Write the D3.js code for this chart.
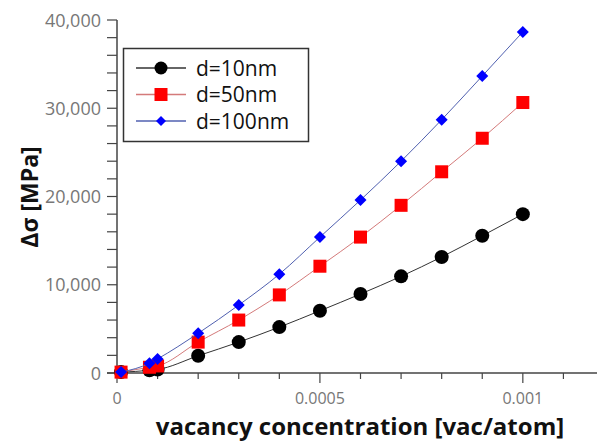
<!DOCTYPE html>
<html>
<head>
<meta charset="utf-8">
<script src="https://cdn.jsdelivr.net/npm/d3@7"></script>
<style>
  body { margin: 0; background: #fff; }
  svg { display: block; font-family: "Open Sans", sans-serif; }
</style>
</head>
<body>
<div id="chart"></div>
<script>
// data
var conc = [0.00001, 0.00008, 0.0001, 0.0002, 0.0003, 0.0004, 0.0005, 0.0006, 0.0007, 0.0008, 0.0009, 0.001]
var d10  = [100, 300, 400, 1950, 3500, 5200, 7050, 8950, 10950, 13150, 15550, 18000]
var d50  = [100, 650, 800, 3500, 6000, 8850, 12100, 15400, 19000, 22800, 26600, 30650]
var d100 = [100, 1100, 1600, 4500, 7700, 11200, 15400, 19600, 24000, 28700, 33650, 38650]
var seriesNames = ["d=10nm", "d=50nm", "d=100nm"]
var xTicks = [0, 0.0005, 0.001]
var yTicks = [0, 10000, 20000, 30000, 40000]

var width = 597,
    height = 441

var svg = d3.select("#chart")
  .append("svg")
    .attr("width", width)
    .attr("height", height)

var x = d3.scaleLinear().domain([0, 0.0012]).range([117, 604])
var y = d3.scaleLinear().domain([0, 40000]).range([373, 20])

var series = [
  {name: seriesNames[0], values: d10,  line: "#333",    fill: "#000",    shape: "circle"},
  {name: seriesNames[1], values: d50,  line: "#d47a7a", fill: "#f00",    shape: "square"},
  {name: seriesNames[2], values: d100, line: "#5060b0", fill: "#0000ff", shape: "diamond"}
]

// minor ticks
var axisColor = "#444"
var yMinor = d3.range(0, 40001, 2000)
svg.selectAll(".ymin").data(yMinor).enter().append("line")
  .attr("x1", 107).attr("x2", 117)
  .attr("y1", function(d) { return y(d) }).attr("y2", function(d) { return y(d) })
  .attr("stroke", axisColor).attr("stroke-width", 1.2)

var xMinor = d3.range(0, 12).map(function(i) { return i * 0.0001 })
svg.selectAll(".xmin").data(xMinor).enter().append("line")
  .attr("x1", function(d) { return x(d) }).attr("x2", function(d) { return x(d) })
  .attr("y1", 373).attr("y2", function(d, i) { return i % 5 == 0 ? 383 : 379 })
  .attr("stroke", axisColor).attr("stroke-width", 1.2)

// axis lines
svg.append("line").attr("x1", 117).attr("x2", 117).attr("y1", 20).attr("y2", 374)
  .attr("stroke", axisColor).attr("stroke-width", 1.5)
svg.append("line").attr("x1", 107).attr("x2", 597).attr("y1", 373).attr("y2", 373)
  .attr("stroke", axisColor).attr("stroke-width", 1.5)

// tick labels
svg.selectAll(".ylab").data(yTicks).enter().append("text")
  .attr("x", 101).attr("y", function(d) { return y(d) + 6.5 })
  .attr("text-anchor", "end")
  .attr("font-size", 18).attr("fill", "#777")
  .text(function(d) { return d3.format(",")(d) })

svg.selectAll(".xlab").data(xTicks).enter().append("text")
  .attr("x", function(d) { return x(d) }).attr("y", 404)
  .attr("text-anchor", "middle")
  .attr("font-size", 16).attr("fill", "#777")
  .text(function(d) { return d == 0 ? "0" : String(d) })

// axis titles
svg.append("text")
  .attr("x", 360).attr("y", 435)
  .attr("text-anchor", "middle")
  .attr("font-size", 24).attr("font-weight", "bold").attr("fill", "#111")
  .text("vacancy concentration [vac/atom]")

svg.append("text")
  .attr("transform", "translate(38,197) rotate(-90)")
  .attr("text-anchor", "middle")
  .attr("font-size", 23).attr("font-weight", "bold").attr("fill", "#111")
  .text("Δσ [MPa]")

// lines
var line = d3.line()
  .x(function(d, i) { return x(conc[i]) })
  .y(function(d) { return y(d) })
  .curve(d3.curveMonotoneX)

function marker(sel, s, size) {
  if (s.shape == "circle") {
    sel.append("circle").attr("r", size).attr("fill", s.fill)
  } else if (s.shape == "square") {
    sel.append("rect").attr("x", -size).attr("y", -size)
      .attr("width", size * 2).attr("height", size * 2).attr("fill", s.fill)
  } else {
    sel.append("path").attr("d", "M0," + (-size) + "L" + size + ",0L0," + size + "L" + (-size) + ",0Z")
      .attr("fill", s.fill)
  }
}

series.forEach(function(s) {
  svg.append("path")
    .attr("d", line(s.values))
    .attr("fill", "none")
    .attr("stroke", s.line)
    .attr("stroke-width", 1)

  var size = s.shape == "circle" ? 7 : (s.shape == "square" ? 6.5 : 6)
  s.values.forEach(function(v, i) {
    var g = svg.append("g").attr("transform", "translate(" + x(conc[i]) + "," + y(v) + ")")
    marker(g, s, size)
  })
})

// legend
var legend = svg.append("g")
legend.append("rect")
  .attr("x", 123.5).attr("y", 48.5).attr("width", 185).attr("height", 93)
  .attr("fill", "#fff").attr("stroke", "#333").attr("stroke-width", 1.5)

series.forEach(function(s, i) {
  var ly = 68 + i * 26.5
  legend.append("line").attr("x1", 136).attr("x2", 186).attr("y1", ly).attr("y2", ly)
    .attr("stroke", s.line).attr("stroke-width", 1.5)
  var g = legend.append("g").attr("transform", "translate(161," + ly + ")")
  marker(g, s, s.shape == "diamond" ? 5 : 6.5)
  legend.append("text")
    .attr("x", 196).attr("y", ly + 7.5)
    .attr("font-size", 21).attr("fill", "#111")
    .text(s.name)
})
</script>
</body>
</html>
